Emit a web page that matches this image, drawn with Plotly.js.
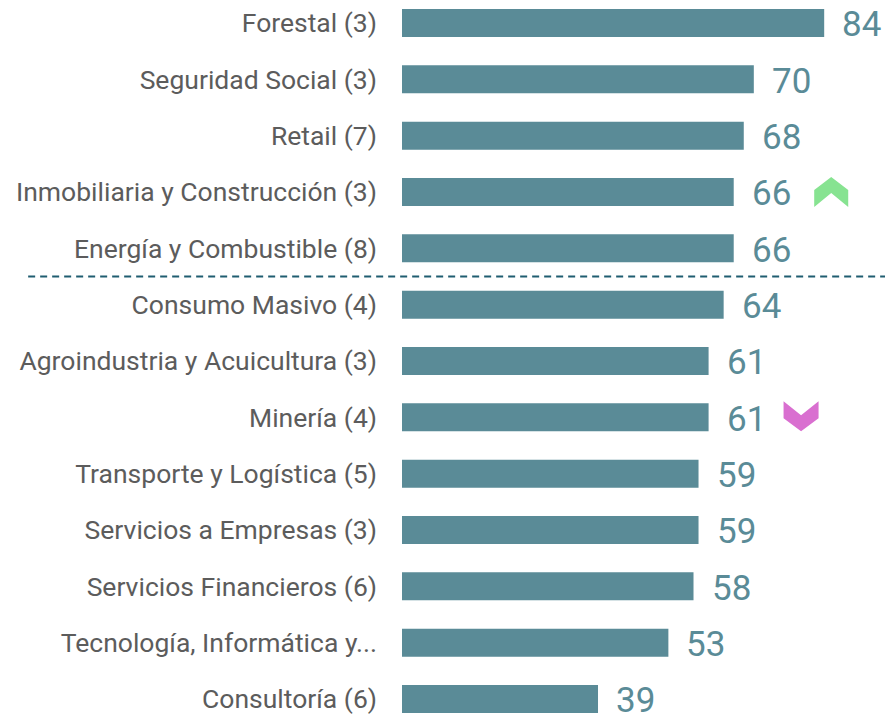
<!DOCTYPE html>
<html>
<head>
<meta charset="utf-8">
<script src="https://cdn.plot.ly/plotly-3.0.1.min.js"></script>
<style>html,body{margin:0;padding:0;background:#fff;}#chart{width:885px;height:716px;}</style>
</head>
<body>
<div id="chart"></div>
<script>
const categories = [
  "Forestal (3)",
  "Seguridad Social (3)",
  "Retail (7)",
  "Inmobiliaria y Construcción (3)",
  "Energía y Combustible (8)",
  "Consumo Masivo (4)",
  "Agroindustria y Acuicultura (3)",
  "Minería (4)",
  "Transporte y Logística (5)",
  "Servicios a Empresas (3)",
  "Servicios Financieros (6)",
  "Tecnología, Informática y...",
  "Consultoría (6)"
];
const values = [84, 70, 68, 66, 66, 64, 61, 61, 59, 59, 58, 53, 39];
const trend = ["", "", "", "up", "", "", "", "down", "", "", "", "", ""];
const separatorAfter = 4;

const barColor = "#5a8b97";
const textColor = "#5a8b97";

const annotations = values.map((v, i) => ({
  x: v, y: categories[i], xref: "x", yref: "y",
  text: String(v), showarrow: false,
  xanchor: "left", yanchor: "middle", xshift: 16, yshift: -2,
  font: {family: "Roboto, sans-serif", size: 35, color: textColor}
}));

const shapes = [{
  type: "line", xref: "paper", yref: "y",
  x0: -0.774, x1: 1, y0: separatorAfter + 0.5, y1: separatorAfter + 0.5,
  line: {color: "#1f5d70", width: 2, dash: "7px,5px"}
}];

// chevron glyph geometry (px offsets), converted to data units
const pxPerX = 5.024, pxPerY = 56.33;
const upPts = [[-17,15],[-17,-2],[0,-15],[17,-2],[17,15],[0,1]];
const downPts = [[-17.5,-16],[0,-2],[17.5,-16],[17.5,1],[0,14],[-17.5,1]];
trend.forEach((t, i) => {
  if (!t) return;
  const cx = values[i] + (t === "up" ? 19.4 : 18.4);
  const pts = t === "up" ? upPts : downPts;
  const path = pts.map((p, k) => (k ? "L" : "M") + (cx + p[0] / pxPerX).toFixed(3) + "," + (i + p[1] / pxPerY).toFixed(4)).join(" ") + " Z";
  shapes.push({
    type: "path", xref: "x", yref: "y", path: path,
    fillcolor: t === "up" ? "#87e391" : "#d96fd0",
    line: {width: 0}
  });
});

const trace = {
  type: "bar", orientation: "h",
  x: values, y: categories,
  marker: {color: barColor},
  hoverinfo: "skip"
};

const layout = {
  width: 885, height: 716,
  margin: {l: 402, r: 0, t: 0, b: 0},
  paper_bgcolor: "#fff", plot_bgcolor: "#fff",
  bargap: 0.503,
  showlegend: false,
  xaxis: {range: [0, 96.1], visible: false, fixedrange: true},
  yaxis: {
    type: "category",
    range: [12.302, -0.408],
    showgrid: false, zeroline: false, showline: false,
    ticks: "", ticklabelstandoff: 24,
    tickfont: {family: "Roboto, sans-serif", size: 26.5, color: "#5c5c5c"},
    fixedrange: true
  },
  annotations: annotations,
  shapes: shapes
};

Plotly.newPlot("chart", [trace], layout, {displayModeBar: false, staticPlot: true});
</script>
</body>
</html>
